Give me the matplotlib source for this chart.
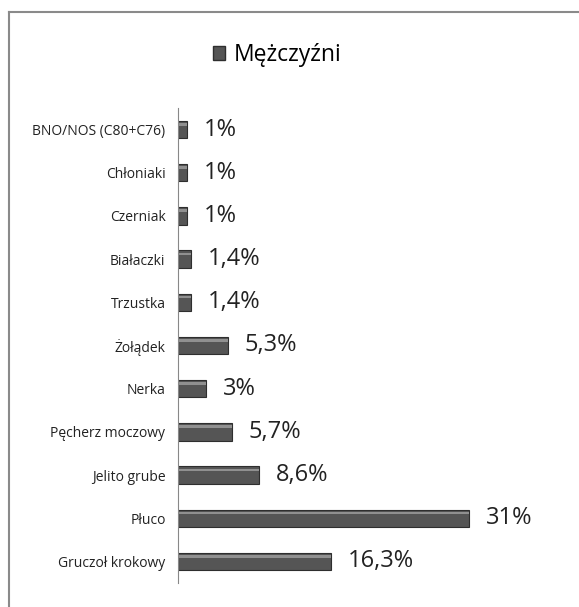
import matplotlib
matplotlib.use("Agg")
import matplotlib.pyplot as plt
from matplotlib.lines import Line2D
from matplotlib.patches import Patch

# data, top to bottom as shown in the chart
categories = ["BNO/NOS (C80+C76)", "Chłoniaki", "Czerniak", "Białaczki", "Trzustka",
              "Żołądek", "Nerka", "Pęcherz moczowy", "Jelito grube", "Płuco",
              "Gruczoł krokowy"]
values = [1, 1, 1, 1.4, 1.4, 5.3, 3, 5.7, 8.6, 31, 16.3]
value_labels = ["1%", "1%", "1%", "1,4%", "1,4%", "5,3%", "3%", "5,7%", "8,6%", "31%", "16,3%"]
series_name = "Mężczyźni"

plt.rcParams['font.family'] = ['Open Sans', 'DejaVu Sans']

fig = plt.figure(figsize=(5.79, 6.07), dpi=100)
ax = fig.add_axes([178 / 579, 24 / 607, 376 / 579, 475 / 607])

pos = list(range(len(categories)))
ax.barh(pos, values, height=0.4, color='#555555', edgecolor='#2e2e2e', linewidth=0.8)
# light stripe to mimic the glossy bars
ax.barh([p - 0.12 for p in pos], values, height=0.06, color='#909090', linewidth=0)

for p, v, lab in zip(pos, values, value_labels):
    ax.annotate(lab, (v, p), xytext=(12, 0), textcoords='offset points',
                va='center', ha='left', fontsize=17, color='#222222')

ax.set_yticks(pos)
ax.set_yticklabels(categories, fontsize=10, color='#222222')
ax.tick_params(axis='y', length=0, pad=9)
ax.set_xticks([])
ax.set_xlim(0, 40)
ax.set_ylim(len(categories) - 0.5, -0.5)

for s in ['top', 'right', 'bottom']:
    ax.spines[s].set_visible(False)
ax.spines['left'].set_color('#888888')

# chart frame (only left and top edges are visible)
fig.add_artist(Line2D([9 / 579, 9 / 579], [0, 1 - 12 / 607], color='#8a8a8a', lw=1.5))
fig.add_artist(Line2D([9 / 579, 1], [1 - 12 / 607, 1 - 12 / 607], color='#8a8a8a', lw=1.5))

fig.legend(handles=[Patch(facecolor='#555555', edgecolor='#2e2e2e', label=series_name)],
           loc='center', bbox_to_anchor=(277 / 579, 1 - 55 / 607), frameon=False,
           fontsize=16.5, handlelength=0.55, handleheight=0.55, handletextpad=0.35)

fig.savefig("out.png", dpi=100, facecolor='white')
